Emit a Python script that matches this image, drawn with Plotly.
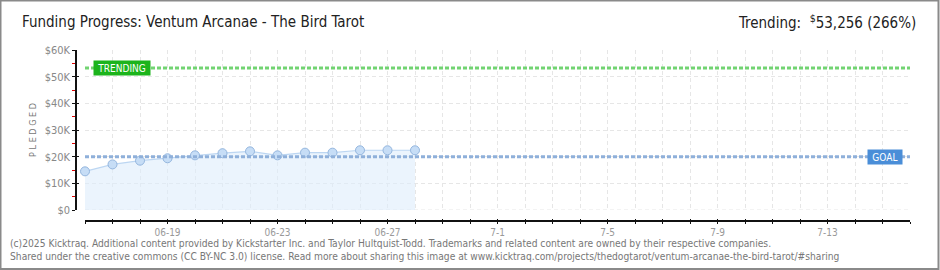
import plotly.graph_objects as go

# ---- data ----
dates = ["2025-06-16", "2025-06-17", "2025-06-18", "2025-06-19", "2025-06-20",
         "2025-06-21", "2025-06-22", "2025-06-23", "2025-06-24", "2025-06-25",
         "2025-06-26", "2025-06-27", "2025-06-28"]
pledged = [14500, 17100, 18500, 19400, 20500, 21300, 22000, 20500, 21500, 21500,
           22400, 22400, 22400]
goal = 20000
trending = 53256
trending_pct = 266
x_start = "2025-06-16"
x_end = "2025-07-16"
tick_days = ["2025-06-%02d" % d for d in range(16, 31)] + ["2025-07-%02d" % d for d in range(1, 17)]
tick_labels = {"2025-06-19": "06-19", "2025-06-23": "06-23", "2025-06-27": "06-27",
               "2025-07-01": "7-1", "2025-07-05": "7-5", "2025-07-09": "7-9",
               "2025-07-13": "7-13"}
y_ticks = [0, 10000, 20000, 30000, 40000, 50000, 60000]
y_labels = ["$0", "$10K", "$20K", "$30K", "$40K", "$50K", "$60K"]

W, H = 940, 270
L, R, T, B = 76, 30, 50, 49
PW, PH = W - L - R, H - T - B

FONT = "DejaVu Sans Condensed"
GRID = "#e6e6e6"

fig = go.Figure()
fig.add_trace(go.Scatter(
    x=dates, y=pledged, mode="lines+markers", fill="tozeroy",
    fillcolor="rgba(222,236,252,0.6)",
    line=dict(color="#bcd6f2", width=1.2),
    marker=dict(size=9, color="#c6ddf6", line=dict(color="#94b6de", width=1)),
    cliponaxis=False, hoverinfo="skip", showlegend=False))

# invisible trace for overlay axes
fig.add_trace(go.Scatter(x=[x_start], y=[0], xaxis="x2", yaxis="y2",
                         mode="markers", marker=dict(opacity=0), showlegend=False,
                         hoverinfo="skip"))

xdom = [(85 - L) / PW, 1]
ydom = [(221 - 210) / PH, 1]

common_x = dict(range=[x_start, x_end], domain=xdom, anchor="free", position=0,
                tickvals=tick_days, ticktext=[tick_labels.get(d, "") for d in tick_days],
                tickcolor="#111", tickwidth=1.2)
fig.update_layout(
    width=W, height=H, margin=dict(l=L, r=R, t=T, b=B),
    paper_bgcolor="white", plot_bgcolor="white",
    xaxis=dict(**common_x, showline=True, linecolor="#111", linewidth=1.5,
               ticks="outside", ticklen=2,
               showgrid=True, gridcolor=GRID, griddash="4px,3px", gridwidth=1,
               tickfont=dict(family=FONT, size=10, color="#999"), zeroline=False),
    xaxis2=dict(**common_x, overlaying="x", ticks="inside", ticklen=2,
                showticklabels=False, showgrid=False, showline=False, zeroline=False),
    yaxis=dict(range=[0, 60000], domain=ydom, anchor="free", position=0,
               tickvals=y_ticks, ticktext=y_labels,
               showline=True, linecolor="#111", linewidth=1.5,
               ticks="outside", ticklen=3, tickcolor="#111", tickwidth=1.2,
               minor=dict(dtick=5000, ticks="outside", ticklen=3, tickcolor="#e00000",
                          tickwidth=1.2, showgrid=False),
               showgrid=True, gridcolor=GRID, griddash="4px,3px", gridwidth=1,
               zeroline=False,
               tickfont=dict(family=FONT, size=11, color="#888"),
               title=dict(text="P L E D G E D", font=dict(family=FONT, size=9, color="#777"),
                          standoff=6)),
    yaxis2=dict(range=[0, 60000], domain=ydom, anchor="free", position=0,
                overlaying="y", tickvals=y_ticks, ticks="inside", ticklen=2,
                tickcolor="#111", tickwidth=1.2, showticklabels=False,
                showgrid=False, showline=False, zeroline=False),
)

# bottom border of grid area
fig.add_shape(type="line", xref="x domain", yref="y", x0=0, x1=1, y0=0, y1=0,
              line=dict(color=GRID, width=1, dash="4px,3px"), layer="below")

# goal and trending lines
fig.add_shape(type="line", xref="x domain", yref="y", x0=0, x1=1, y0=goal, y1=goal,
              line=dict(color="#8fb0da", width=3, dash="4px,2px"))
fig.add_shape(type="line", xref="x domain", yref="y", x0=0, x1=1, y0=trending, y1=trending,
              line=dict(color="#72d472", width=3, dash="4px,2px"))

fig.add_annotation(xref="x domain", yref="y", x=0.0097, y=trending, xanchor="left",
                   text=" TRENDING ", showarrow=False, bgcolor="#1cb41c",
                   font=dict(family=FONT, size=10, color="white"), borderpad=1.5)
fig.add_annotation(xref="x domain", yref="y", x=0.9915, y=goal, xanchor="right",
                   text=" GOAL ", showarrow=False, bgcolor="#4a8ed8",
                   font=dict(family=FONT, size=10, color="white"), borderpad=1.5)

# title texts
fig.add_annotation(xref="paper", yref="paper", x=(20 - L) / PW, y=(H - B - 22) / PH,
                   yanchor="middle", xanchor="left", showarrow=False,
                   text="Funding Progress: Ventum Arcanae - The Bird Tarot",
                   font=dict(family=FONT, size=15, color="#222"))
fig.add_annotation(xref="paper", yref="paper", x=(918 - L) / PW, y=(H - B - 22) / PH,
                   yanchor="middle", xanchor="right", showarrow=False,
                   text="Trending:  <sup>$</sup>%s (%d%%)" % (f"{trending:,}", trending_pct),
                   font=dict(family=FONT, size=15, color="#222"))

# footer
fig.add_annotation(xref="paper", yref="paper", x=(8 - L) / PW, y=(H - B - 243) / PH,
                   yanchor="middle", xanchor="left", showarrow=False, align="left",
                   text="(c)2025 Kicktraq. Additional content provided by Kickstarter Inc. and Taylor Hultquist-Todd. Trademarks and related content are owned by their respective companies.",
                   font=dict(family=FONT, size=10.2, color="#777"))
fig.add_annotation(xref="paper", yref="paper", x=(8 - L) / PW, y=(H - B - 256) / PH,
                   yanchor="middle", xanchor="left", showarrow=False, align="left",
                   text="Shared under the creative commons (CC BY-NC 3.0) license. Read more about sharing this image at www.kicktraq.com/projects/thedogtarot/ventum-arcanae-the-bird-tarot/#sharing",
                   font=dict(family=FONT, size=10.2, color="#777"))

# frame
fig.add_shape(type="rect", xref="paper", yref="paper",
              x0=(0.5 - L) / PW, x1=(W - 1.5 - L) / PW,
              y0=(H - B - (H - 1)) / PH, y1=(H - B - 0.5) / PH,
              line=dict(color="#8a8a8a", width=2), layer="above")

fig.write_html("out.html")
